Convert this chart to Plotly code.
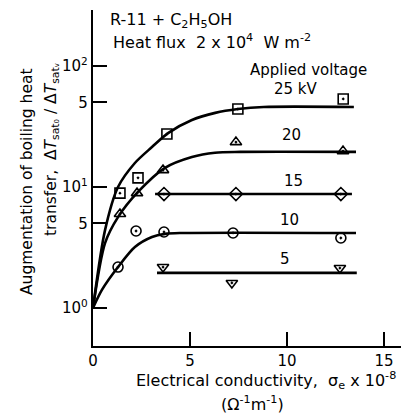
import plotly.graph_objects as go

# ---- data ----
# measured points (sigma_e x 1e-8, augmentation ratio)
x25 = [1.39, 2.32, 3.81, 7.47, 12.9]
y25 = [8.9, 11.9, 27.4, 44.1, 53.4]
x20 = [1.39, 2.27, 3.61, 7.37, 12.89]
y20 = [5.98, 8.9, 13.8, 23.5, 19.8]
x15 = [3.66, 7.37, 12.78]
y15 = [8.75, 8.75, 8.75]
x10 = [1.29, 2.22, 3.66, 7.22, 12.78]
y10 = [2.18, 4.33, 4.25, 4.17, 3.79]
x5 = [3.61, 7.16, 12.73]
y5 = [2.18, 1.61, 2.14]

# hand-drawn trend curves
cx25 = [0, 0.62, 1.29, 2.16, 3.04, 3.87, 5.10, 6.3, 7.47, 8.8, 13.45]
cy25 = [1.0, 4.4, 10.0, 15.8, 21.4, 27.9, 35.8, 41.0, 44.1, 45.9, 45.9]
cx20 = [0, 0.62, 1.29, 2.32, 3.71, 5.10, 6.29, 7.6, 13.56]
cy20 = [1.0, 3.44, 5.64, 9.1, 14.4, 17.7, 19.2, 19.5, 19.5]
cx15 = [3.2, 13.35]
cy15 = [8.75, 8.75]
cx10 = [0, 0.46, 1.29, 2.16, 3.04, 3.71, 4.6, 13.56]
cy10 = [1.0, 1.41, 2.18, 3.19, 3.86, 4.1, 4.17, 4.17]
cx5 = [3.3, 13.6]
cy5 = [1.95, 1.95]

xtick_vals = [0, 5, 10, 15]
xtick_text = ["0", "5", "10", "15"]
ytick_vals = [1, 5, 10, 50, 100]
ytick_text = ["10<sup>0</sup>", "5", "10<sup>1</sup>", "5", "10<sup>2</sup>"]

FONT = "DejaVu Sans"
fig = go.Figure()

for cx, cy in [(cx25, cy25), (cx20, cy20), (cx15, cy15), (cx10, cy10), (cx5, cy5)]:
    fig.add_trace(go.Scatter(x=cx, y=cy, mode="lines", line=dict(color="black", width=2.6, shape="spline", smoothing=0.8),
                             showlegend=False, hoverinfo="skip"))

for xs, ys, sym in [(x25, y25, "square-open-dot"), (x20, y20, "triangle-up-open-dot"),
                    (x15, y15, "diamond-open-dot"), (x10, y10, "circle-open-dot"),
                    (x5, y5, "triangle-down-open-dot")]:
    fig.add_trace(go.Scatter(x=xs, y=ys, mode="markers",
                             marker=dict(symbol=sym, size=10, color="black", line=dict(color="black", width=1.6)),
                             showlegend=False))

L, T, B = 93, 10, 69
W, H = 401, 415
pw, ph = W - L, H - T - B


def px(xp):
    return (xp - L) / pw


def py(yp):
    return (H - B - yp) / ph


ann = []


def add(text, xp, yp, size=15, xanchor="center", angle=0):
    ann.append(dict(text=text, x=px(xp), y=py(yp), xref="paper", yref="paper", showarrow=False,
                    xanchor=xanchor, yanchor="middle", textangle=angle,
                    font=dict(family=FONT, size=size, color="black")))


add("R-11 + C<sub>2</sub>H<sub>5</sub>OH", 108, 20, size=16, xanchor="left")
add("Heat flux  2 x 10<sup>4</sup>  W m<sup>-2</sup>", 111, 41, size=16, xanchor="left")
add("Applied voltage", 308, 70)
add("25 kV", 296, 89)
add("20", 291, 135)
add("15", 293, 181)
add("10", 289, 220)
add("5", 285, 259)
add("Electrical conductivity,  σ<sub>e</sub> x 10<sup>-8</sup>", 266, 380, size=16)
add("(Ω<sup>-1</sup>m<sup>-1</sup>)", 252, 403, size=16)
ann.append(dict(text="Augmentation of boiling heat", x=px(27), y=py(182), xref="paper", yref="paper",
                showarrow=False, xanchor="center", yanchor="middle", textangle=-90,
                font=dict(family=FONT, size=15.5, color="black")))
ann.append(dict(text="transfer,  Δ<i>T</i><sub>sat₀</sub> / Δ<i>T</i><sub>satᵥ</sub>", x=px(52), y=py(150),
                xref="paper", yref="paper", showarrow=False, xanchor="center", yanchor="middle", textangle=-90,
                font=dict(family=FONT, size=15.5, color="black")))

fig.update_layout(
    width=W, height=H, margin=dict(l=L, r=0, t=T, b=B, autoexpand=False),
    paper_bgcolor="white", plot_bgcolor="white",
    showlegend=False, annotations=ann,
    xaxis=dict(range=[0, 15.88], tickvals=xtick_vals, ticktext=xtick_text, ticks="inside", ticklen=14,
               tickwidth=1.6, tickcolor="black", showline=True, linecolor="black", linewidth=2.4,
               showgrid=False, zeroline=False, automargin=False,
               tickfont=dict(family=FONT, size=15, color="black")),
    yaxis=dict(type="log", range=[-0.314, 2.463], tickvals=ytick_vals, ticktext=ytick_text, ticks="inside",
               ticklen=14, tickwidth=1.6, tickcolor="black", showline=True, linecolor="black", linewidth=2.4,
               showgrid=False, zeroline=False, automargin=False,
               tickfont=dict(family=FONT, size=15, color="black")),
)

fig.write_html("out.html", config={"displayModeBar": False},
               post_script="document.body.style.margin='0';document.body.style.overflow='hidden';")
